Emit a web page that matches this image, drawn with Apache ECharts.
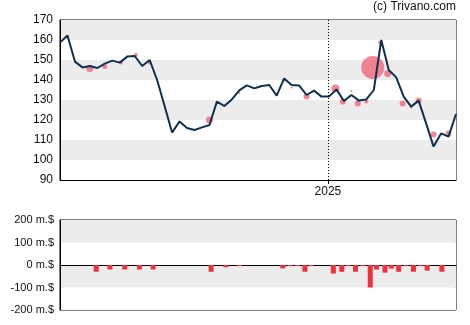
<!DOCTYPE html>
<html><head><meta charset="utf-8">
<script src="https://cdn.jsdelivr.net/npm/echarts@6/dist/echarts.min.js"></script>
<style>html,body{margin:0;padding:0;background:#fff}#c{width:470px;height:325px}</style>
</head><body><div id="c"></div>
<script>
const weeks = ['2024-04-25','2024-05-02','2024-05-09','2024-05-16','2024-05-23','2024-05-30','2024-06-06','2024-06-13','2024-06-20','2024-06-27','2024-07-04','2024-07-11','2024-07-18','2024-07-25','2024-08-01','2024-08-08','2024-08-15','2024-08-22','2024-08-29','2024-09-05','2024-09-12','2024-09-19','2024-09-26','2024-10-03','2024-10-10','2024-10-17','2024-10-24','2024-10-31','2024-11-07','2024-11-14','2024-11-21','2024-11-28','2024-12-05','2024-12-12','2024-12-19','2024-12-26','2025-01-02','2025-01-09','2025-01-16','2025-01-23','2025-01-30','2025-02-06','2025-02-13','2025-02-20','2025-02-27','2025-03-06','2025-03-13','2025-03-20','2025-03-27','2025-04-03','2025-04-10','2025-04-17','2025-04-24','2025-05-01'];
const prices = [158.7,162.3,149.2,146.3,147,146,148.2,149.7,148.7,151.7,152,147,150,140,127,113.7,119.3,116,115,116.3,117.5,129.2,127,130.3,134.8,137.3,135.8,137,137.5,132.2,140.8,137.5,137.3,132.5,134.7,131.7,131.7,135.3,129.5,132.5,129.7,130.3,135,160,145,141.3,131.7,126.7,129.7,118.3,106.7,113.3,111.7,123];

const tradeDates = ['2024-05-23','2024-06-06','2024-06-21','2024-07-05','2024-07-18','2024-09-12','2024-09-26','2024-10-10','2024-11-21','2024-11-28','2024-12-12','2025-01-08','2025-01-15','2025-01-23','2025-01-29','2025-02-06','2025-02-12','2025-02-19','2025-02-26','2025-03-12','2025-03-20','2025-03-27','2025-04-10','2025-04-24'];
const tradePrices = [145.7,146.8,148.8,152.5,148.8,120,127.3,133.5,140,136.3,131.7,135.8,129.2,134.5,128.3,129.2,146.3,158.7,143.3,128.3,126.3,129.7,112.7,113.3];
const tradeSizes = [3.5,2.5,2,2,2,3.5,1,1,1.5,1,3,4,3,1,3,2,11.5,2,3.5,3,1,3,3,3];

const flowDates = ['2024-05-27','2024-06-09','2024-06-23','2024-07-07','2024-07-20','2024-09-13','2024-09-27','2024-10-10','2024-11-20','2024-11-27','2024-12-04','2024-12-11','2024-12-17','2025-01-07','2025-01-15','2025-01-21','2025-01-28','2025-02-04','2025-02-11','2025-02-17','2025-02-25','2025-03-03','2025-03-10','2025-03-17','2025-03-24','2025-03-31','2025-04-06','2025-04-20'];
const flowValues = [-30,-20,-20,-20,-20,-30,-10,-5,-15,-5,-5,-30,-5,-38,-30,-5,-30,-5,-100,-20,-34,-16,-30,-5,-30,-5,-25,-30];

const priceTicks = {min:90, max:170, interval:10};
const flowTicks = {min:-200, max:200, interval:100};
const yearMark = '2025-01-01';
const yearLabel = '2025';

const chart = echarts.init(document.getElementById('c'), null, {renderer:'canvas'});
const font = 'Liberation Sans, Arial, sans-serif';
const xMin = weeks[0], xMax = weeks[weeks.length-1];
const ts = s => echarts.time.parse(s).getTime();
const yearTs = ts(yearMark);

chart.setOption({
  animation:false,
  backgroundColor:'#fff',
  graphic:[{type:'text', right:14, top:1, style:{text:'(c) Trivano.com', font:'12px '+font, fill:'#111'}}],
  grid:[
    {left:60, top:20, width:396, height:160, show:true, borderColor:'#000', borderWidth:1, backgroundColor:'transparent'},
    {left:60, top:220, width:396, height:90, show:true, borderColor:'#000', borderWidth:1, backgroundColor:'transparent'}
  ],
  xAxis:[
    {type:'time', gridIndex:0, min:xMin, max:xMax,
     axisLine:{show:true, lineStyle:{color:'#000', width:1}},
     axisTick:{show:false}, axisLabel:{show:false}, splitLine:{show:false}},
    {type:'time', gridIndex:1, min:xMin, max:xMax,
     axisLine:{show:true, onZero:true, lineStyle:{color:'#000', width:1}},
     axisTick:{show:false}, axisLabel:{show:false}, splitLine:{show:false}},
    {type:'value', gridIndex:0, min:ts(xMin), max:ts(xMax), position:'bottom',
     axisLine:{show:false},
     axisTick:{show:true, customValues:[yearTs], length:4, lineStyle:{color:'#000'}},
     axisLabel:{show:true, customValues:[yearTs], formatter:()=>yearLabel, color:'#111', fontSize:12, fontFamily:font, margin:6},
     splitLine:{show:false}}
  ],
  yAxis:[
    {type:'value', gridIndex:0, min:priceTicks.min, max:priceTicks.max, interval:priceTicks.interval,
     axisLine:{show:true, lineStyle:{color:'#000'}}, axisTick:{show:false},
     axisLabel:{color:'#111', fontSize:12, fontFamily:font, margin:7},
     splitLine:{show:false},
     splitArea:{show:true, areaStyle:{color:['#ffffff','#ececec']}}},
    {type:'value', gridIndex:1, min:flowTicks.min, max:flowTicks.max, interval:flowTicks.interval,
     axisLine:{show:true, lineStyle:{color:'#000'}}, axisTick:{show:false},
     axisLabel:{color:'#111', fontSize:11, fontFamily:font, margin:6, formatter:v=>v+' m.$'},
     splitLine:{show:false},
     splitArea:{show:true, areaStyle:{color:['#ffffff','#ececec']}}}
  ],
  series:[
    {type:'scatter', xAxisIndex:0, yAxisIndex:0, z:2,
     data:tradeDates.map((d,i)=>[d, tradePrices[i], tradeSizes[i]]),
     symbolSize:v=>v[2]*2,
     itemStyle:{color:'rgba(240,72,96,0.82)'}},
    {type:'line', xAxisIndex:0, yAxisIndex:0, z:3,
     data:weeks.map((d,i)=>[d, prices[i]]),
     showSymbol:false, symbol:'none',
     lineStyle:{color:'#0e3150', width:2},
     markLine:{silent:true, symbol:'none', label:{show:false},
       lineStyle:{color:'#000', width:1, type:[1,2]},
       data:[{xAxis:yearMark}]}},
    {type:'bar', xAxisIndex:1, yAxisIndex:1,
     data:flowDates.map((d,i)=>[d, flowValues[i]]),
     barWidth:5, itemStyle:{color:'#f0303f'}}
  ]
});
</script></body></html>
